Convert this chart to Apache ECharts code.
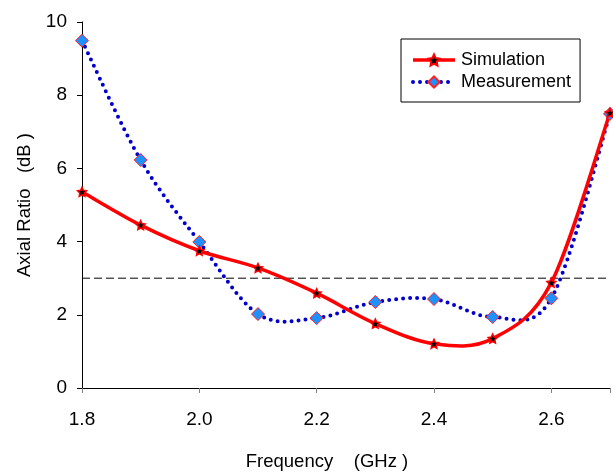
<!DOCTYPE html>
<html><head><meta charset="utf-8">
<script src="https://cdn.jsdelivr.net/npm/echarts@6/dist/echarts.min.js"></script>
<style>html,body{margin:0;padding:0;background:#fff}#c{width:613px;height:476px}</style>
</head><body><div id="c"></div>
<script>
const freq = [1.8, 1.9, 2.0, 2.1, 2.2, 2.3, 2.4, 2.5, 2.6, 2.7];
const simulation = [5.36, 4.45, 3.75, 3.28, 2.59, 1.76, 1.21, 1.35, 2.88, 7.52];
const measurement = [9.49, 6.23, 3.99, 2.02, 1.91, 2.35, 2.43, 1.94, 2.45, 7.49];
const threshold = 3;
const xTicks = [1.8, 2.0, 2.2, 2.4, 2.6];

const font = 'Liberation Sans, Arial, sans-serif';

// Smooth (Catmull-Rom style, like spreadsheet smoothed lines) segment renderer
function smoothSegment(values, style) {
  return function (params, api) {
    const i = params.dataIndex;
    const n = values.length;
    if (i >= n - 1) return null;
    const P = j => {
      const k = Math.max(0, Math.min(n - 1, j));
      return api.coord([freq[k], values[k]]);
    };
    const p0 = P(i - 1), p1 = P(i), p2 = P(i + 1), p3 = P(i + 2);
    const c1 = [p1[0] + (p2[0] - p0[0]) / 6, p1[1] + (p2[1] - p0[1]) / 6];
    const c2 = [p2[0] - (p3[0] - p1[0]) / 6, p2[1] - (p3[1] - p1[1]) / 6];
    return {
      type: 'path',
      shape: {pathData: 'M' + p1[0] + ',' + p1[1] + 'C' + c1[0] + ',' + c1[1] + ' ' + c2[0] + ',' + c2[1] + ' ' + p2[0] + ',' + p2[1]},
      style: Object.assign({fill: null}, style),
      silent: true
    };
  };
}

const chart = echarts.init(document.getElementById('c'), null, {renderer: 'canvas'});
const starPath = 'path://M0,-10 L2.9,-4 L9.5,-3.1 L4.7,1.5 L5.9,8.1 L0,5 L-5.9,8.1 L-4.7,1.5 L-9.5,-3.1 L-2.9,-4 Z';
chart.setOption({
  animation: false,
  backgroundColor: '#fff',
  grid: {left: 82, right: 1, top: 22, bottom: 83},
  legend: {
    left: 401, top: 39, orient: 'vertical',
    padding: [12, 9, 11, 10],
    borderColor: '#000', borderWidth: 1,
    itemWidth: 42, itemHeight: 14, itemGap: 4,
    textStyle: {fontFamily: font, fontSize: 18, color: '#000', padding: [0, 0, 0, 1]},
    data: [
      {name: 'Simulation', lineStyle: {opacity: 1, color: '#FF0000', width: 3.5, type: 'solid'}},
      {name: 'Measurement', lineStyle: {opacity: 1, color: '#0000CC', width: 4, type: [0, 7], cap: 'round'}}
    ]
  },
  xAxis: {
    type: 'value', min: 1.8, max: 2.7, interval: 0.2,
    name: 'Frequency    (GHz )', nameLocation: 'middle', nameGap: 64,
    nameTextStyle: {fontFamily: font, fontSize: 18.5, color: '#000', padding: [0, 38, 0, 0]},
    axisLine: {lineStyle: {color: '#000', width: 1}},
    axisTick: {length: 5, lineStyle: {color: '#808080'}},
    axisLabel: {fontFamily: font, fontSize: 19, color: '#000', margin: 22,
      formatter: v => xTicks.some(t => Math.abs(t - v) < 1e-6) ? v.toFixed(1) : ''},
    splitLine: {show: false}
  },
  yAxis: {
    type: 'value', min: 0, max: 10, interval: 2,
    name: 'Axial Ratio   (dB )', nameLocation: 'middle', nameGap: 48,
    nameTextStyle: {fontFamily: font, fontSize: 18.5, color: '#000'},
    axisLine: {show: true, lineStyle: {color: '#000', width: 1}},
    axisTick: {show: true, length: 5, lineStyle: {color: '#000'}},
    axisLabel: {fontFamily: font, fontSize: 19, color: '#000', margin: 15},
    splitLine: {show: false}
  },
  series: [
    {
      name: 'threshold', type: 'line', silent: true, symbol: 'none',
      data: [[1.8, threshold], [2.7, threshold]],
      lineStyle: {color: '#000', width: 1, type: [8, 4]},
      z: 1
    },
    {
      name: 'measCurve', type: 'custom', z: 2,
      renderItem: smoothSegment(measurement, {stroke: '#0000CC', lineWidth: 4, lineDash: [0, 7], lineCap: 'round'}),
      data: freq.map((f, i) => [f, measurement[i]]),
      encode: {x: 0, y: 1}
    },
    {
      name: 'simCurve', type: 'custom', z: 3,
      renderItem: smoothSegment(simulation, {stroke: '#FF0000', lineWidth: 3.5, lineCap: 'round'}),
      data: freq.map((f, i) => [f, simulation[i]]),
      encode: {x: 0, y: 1}
    },
    {
      name: 'Measurement', type: 'line',
      data: freq.map((f, i) => [f, measurement[i]]),
      lineStyle: {color: '#0000CC', width: 4, opacity: 0},
      symbol: 'diamond', symbolSize: 13,
      itemStyle: {color: '#1E90FF', borderColor: '#FF2020', borderWidth: 1},
      z: 4
    },
    {
      name: 'Simulation', type: 'line',
      data: freq.map((f, i) => [f, simulation[i]]),
      lineStyle: {color: '#FF0000', width: 3.5, opacity: 0},
      symbol: starPath, symbolSize: 9,
      itemStyle: {color: '#000', borderColor: '#FF0000', borderWidth: 1.5},
      z: 5
    }
  ]
});
</script></body></html>
